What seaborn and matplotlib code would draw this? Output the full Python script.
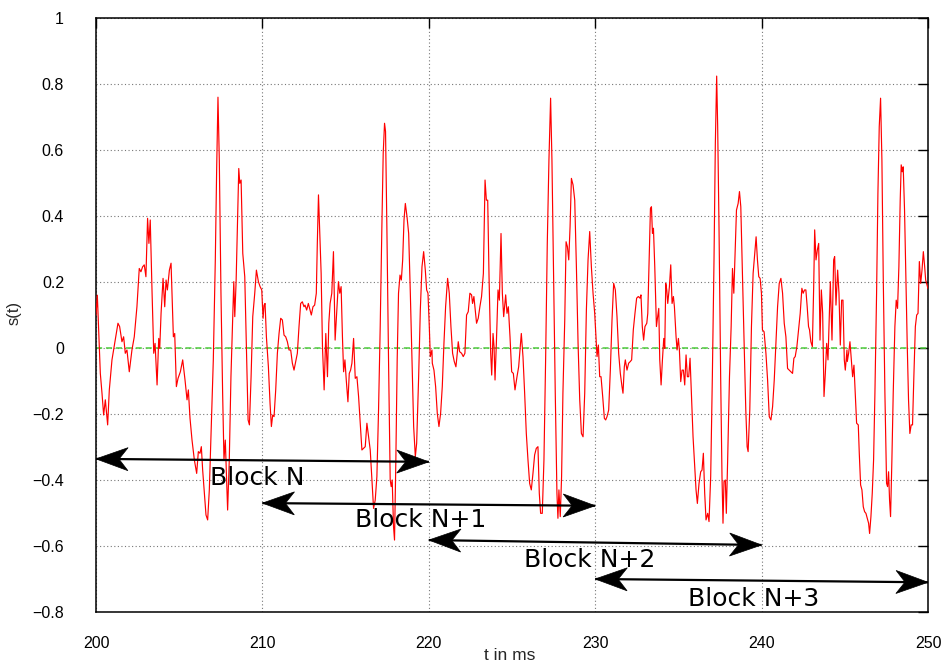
import matplotlib
matplotlib.use("Agg")
import numpy as np
import pandas as pd
import seaborn as sns
import matplotlib.pyplot as plt
from matplotlib.patches import Polygon
from matplotlib.transforms import IdentityTransform

# ---------------- data ----------------
t_ms = [
    200.00, 200.08, 200.26, 200.36, 200.46, 200.56, 200.70, 200.80, 200.96, 201.12,
    201.32, 201.42, 201.56, 201.66, 201.76, 201.86, 202.00, 202.16, 202.30, 202.46,
    202.60, 202.70, 202.80, 202.90, 203.00, 203.10, 203.18, 203.26, 203.37, 203.47,
    203.55, 203.67, 203.77, 203.83, 203.91, 204.03, 204.13, 204.21, 204.29, 204.41,
    204.51, 204.65, 204.73, 204.83, 204.93, 205.07,
    205.21, 205.35, 205.47, 205.55, 205.65, 205.77, 205.91, 206.05, 206.15, 206.25,
    206.33, 206.41, 206.51, 206.61, 206.71, 206.81, 206.93, 207.05, 207.17, 207.25,
    207.33, 207.41, 207.51, 207.61, 207.69, 207.77, 207.81, 207.91, 208.01, 208.11,
    208.21, 208.28, 208.34, 208.42, 208.52, 208.58, 208.64, 208.72, 208.82, 208.94,
    209.06, 209.14, 209.22, 209.32, 209.42, 209.54, 209.64, 209.76, 209.86,
    209.96, 210.04, 210.10, 210.16, 210.24, 210.36, 210.46, 210.54, 210.62, 210.70,
    210.80, 210.90, 211.00, 211.10, 211.20, 211.30, 211.40, 211.50, 211.60, 211.70,
    211.80, 211.90, 212.00, 212.10, 212.20, 212.30, 212.40, 212.50, 212.56, 212.66,
    212.76, 212.86, 212.94, 213.04, 213.14, 213.24, 213.30, 213.37, 213.45, 213.53,
    213.61, 213.71, 213.81, 213.91, 213.99, 214.07, 214.17, 214.27, 214.37, 214.47,
    214.57, 214.65, 214.73, 214.81,
    214.88, 214.96, 215.04, 215.14, 215.22, 215.30, 215.38, 215.48, 215.58, 215.68,
    215.78, 215.88, 215.98, 216.08, 216.18, 216.28, 216.38, 216.48, 216.58, 216.68,
    216.78, 216.88, 216.98, 217.08, 217.18, 217.26, 217.34, 217.40, 217.48, 217.58,
    217.68, 217.74, 217.80, 217.88, 217.94, 218.02, 218.10, 218.18, 218.27, 218.35,
    218.43, 218.51, 218.59, 218.69, 218.79, 218.89, 218.99, 219.09, 219.19, 219.27,
    219.39, 219.49, 219.59, 219.69, 219.79, 219.87, 219.95, 220.03, 220.09, 220.19,
    220.21, 220.31, 220.41, 220.51, 220.61, 220.71, 220.81, 220.91, 221.01, 221.13,
    221.23, 221.33, 221.43, 221.53, 221.63, 221.71, 221.77, 221.85, 221.97, 222.07,
    222.17, 222.27, 222.37, 222.47, 222.57, 222.63, 222.71, 222.77, 222.87, 222.97,
    223.07, 223.17, 223.28, 223.38, 223.46, 223.54, 223.62, 223.72, 223.78, 223.86,
    223.92, 223.98, 224.06, 224.16, 224.24, 224.34, 224.42, 224.50, 224.62, 224.70,
    224.78, 224.88, 224.98, 225.08, 225.18,
    225.30, 225.40, 225.48, 225.56, 225.66, 225.76, 225.86, 225.96, 226.06, 226.16,
    226.26, 226.36, 226.46, 226.56, 226.64, 226.72, 226.82, 226.92, 227.02, 227.12,
    227.22, 227.32, 227.40, 227.50, 227.60, 227.70, 227.76, 227.82, 227.90, 227.98,
    228.06, 228.17, 228.25, 228.33, 228.41, 228.49, 228.57, 228.67, 228.77, 228.87,
    228.97, 229.07, 229.17, 229.27, 229.37, 229.47, 229.57, 229.67, 229.77, 229.87,
    229.97,
    230.11, 230.19, 230.27, 230.35, 230.45, 230.55, 230.63, 230.71, 230.81, 230.91,
    231.01, 231.11, 231.21, 231.31, 231.41, 231.51, 231.61, 231.67, 231.75, 231.81,
    231.91, 232.01, 232.11, 232.19, 232.29, 232.39, 232.49, 232.59, 232.69, 232.75,
    232.83, 232.91, 232.99, 233.10, 233.16, 233.24, 233.32, 233.38, 233.44, 233.50,
    233.58, 233.68, 233.74, 233.82, 233.88, 233.96, 234.04, 234.12, 234.18, 234.24,
    234.30, 234.36, 234.46, 234.54, 234.62, 234.70, 234.76, 234.86, 234.92, 235.00,
    235.06,
    235.14, 235.22, 235.30, 235.38, 235.46, 235.54, 235.62, 235.70, 235.78, 235.88,
    235.98, 236.06, 236.14, 236.24, 236.34, 236.42, 236.50, 236.58, 236.66, 236.76,
    236.84, 236.94, 237.04, 237.14, 237.22, 237.30, 237.36, 237.44, 237.54, 237.62,
    237.68, 237.74, 237.82, 237.88, 237.96, 238.07, 238.17, 238.25, 238.33, 238.41,
    238.49, 238.59, 238.67, 238.75, 238.85, 238.95, 239.05, 239.13, 239.19, 239.29,
    239.39, 239.49, 239.59, 239.67, 239.75, 239.83, 239.91, 239.99, 240.05, 240.15,
    240.26, 240.36, 240.46, 240.56, 240.66, 240.76, 240.86, 240.96, 241.06, 241.16,
    241.26, 241.36, 241.46, 241.56, 241.66, 241.76, 241.86, 241.94, 242.02, 242.12,
    242.22, 242.32, 242.42, 242.50, 242.58, 242.66, 242.74, 242.82, 242.88, 242.96,
    243.05, 243.13, 243.19, 243.27, 243.35, 243.43, 243.51, 243.59, 243.67, 243.75,
    243.83, 243.91, 243.99, 244.07, 244.13, 244.23, 244.33, 244.39, 244.47, 244.57,
    244.65, 244.73, 244.81, 244.89, 244.97, 245.03, 245.13,
    245.15, 245.23, 245.31, 245.39, 245.47, 245.55, 245.63, 245.71, 245.81, 245.87,
    245.95, 246.03, 246.11, 246.19, 246.27, 246.35, 246.43, 246.49, 246.57, 246.65,
    246.73, 246.81, 246.91, 246.99, 247.07, 247.15, 247.23, 247.31, 247.41, 247.51,
    247.57, 247.63, 247.69, 247.75, 247.83, 247.91, 248.01, 248.09, 248.17, 248.25,
    248.33, 248.39, 248.45, 248.51, 248.59, 248.67, 248.75, 248.83, 248.91, 248.99,
    249.07, 249.15, 249.24, 249.32, 249.40, 249.48, 249.56, 249.64, 249.72, 249.80,
    249.86, 250.00,
]

s_val = [
    0.100, 0.160, -0.077, -0.137, -0.203, -0.157, -0.233, -0.127, -0.036, 0.014,
    0.075, 0.065, 0.019, 0.034, -0.016, -0.006, -0.072, -0.006, 0.034, 0.125,
    0.241, 0.231, 0.246, 0.252, 0.216, 0.393, 0.317, 0.388, 0.166, -0.016,
    0.014, -0.112, 0.029, -0.001, 0.105, 0.211, 0.125, 0.206, 0.176, 0.236,
    0.257, 0.034, 0.044, -0.117, -0.092, -0.072,
    -0.036, -0.097, -0.157, -0.127, -0.213, -0.279, -0.339, -0.380, -0.314, -0.319,
    -0.299, -0.370, -0.440, -0.506, -0.521, -0.430, -0.238, -0.036, 0.267, 0.539,
    0.760, 0.570, 0.166, -0.137, -0.339, -0.279, -0.339, -0.491, -0.339, -0.087,
    0.085, 0.201, 0.095, 0.201, 0.418, 0.544, 0.499, 0.509, 0.287, 0.216,
    -0.036, -0.218, -0.233, -0.087, 0.095, 0.166, 0.236, 0.201, 0.186,
    0.176, 0.090, 0.130, 0.135, 0.034, -0.057, -0.168, -0.238, -0.203, -0.208,
    -0.127, -0.016, 0.044, 0.090, 0.085, 0.039, 0.034, 0.019, -0.006, -0.006,
    -0.046, -0.067, -0.041, -0.016, 0.065, 0.135, 0.140, 0.125, 0.130, 0.115,
    0.135, 0.115, 0.100, 0.125, 0.130, 0.166, 0.317, 0.464, 0.347, 0.226,
    0.004, -0.127, 0.044, -0.087, 0.075, 0.135, 0.166, 0.292, 0.024, 0.115,
    0.201, 0.166, 0.186, 0.034,
    -0.072, -0.036, -0.097, -0.163, -0.077, -0.067, -0.046, 0.029, -0.092, -0.087,
    -0.147, -0.228, -0.309, -0.304, -0.299, -0.228, -0.269, -0.309, -0.400, -0.486,
    -0.461, -0.390, -0.188, 0.065, 0.368, 0.590, 0.681, 0.656, 0.368, -0.036,
    -0.400, -0.420, -0.400, -0.541, -0.582, -0.339, -0.036, 0.166, 0.221, 0.206,
    0.267, 0.388, 0.438, 0.398, 0.347, 0.166, -0.036, -0.238, -0.329, -0.289,
    -0.087, 0.115, 0.246, 0.292, 0.236, 0.176, 0.166, 0.065, -0.026, -0.006,
    -0.046, -0.067, -0.117, -0.198, -0.238, -0.198, -0.117, 0.014, 0.125, 0.211,
    0.166, 0.065, -0.016, -0.041, -0.057, -0.016, 0.019, -0.011, -0.016, -0.026,
    -0.016, 0.100, 0.110, 0.166, 0.161, 0.135, 0.156, 0.125, 0.075, 0.090,
    0.125, 0.156, 0.226, 0.509, 0.448, 0.448, 0.216, -0.016, -0.082, 0.044,
    0.004, -0.097, 0.014, 0.176, 0.145, 0.347, 0.166, 0.095, 0.161, 0.105,
    0.125, 0.034, -0.072, -0.077, -0.127,
    -0.087, -0.057, -0.006, 0.044, -0.026, -0.137, -0.259, -0.339, -0.410, -0.430,
    -0.380, -0.324, -0.304, -0.299, -0.440, -0.501, -0.501, -0.339, -0.036, 0.317,
    0.570, 0.757, 0.570, 0.216, -0.137, -0.440, -0.516, -0.430, -0.511, -0.390,
    -0.137, 0.085, 0.322, 0.307, 0.267, 0.368, 0.514, 0.494, 0.448, 0.246,
    0.014, -0.157, -0.259, -0.269, -0.137, 0.115, 0.267, 0.353, 0.246, 0.166,
    0.105,
    -0.026, 0.009, -0.087, -0.087, -0.147, -0.213, -0.218, -0.208, -0.188, -0.067,
    0.085, 0.196, 0.176, 0.095, -0.016, -0.077, -0.117, -0.137, -0.057, -0.036,
    -0.067, -0.046, -0.041, -0.036, 0.055, 0.105, 0.151, 0.156, 0.151, 0.161,
    0.065, 0.024, 0.065, 0.075, 0.105, 0.267, 0.423, 0.428, 0.347, 0.363,
    0.246, 0.065, 0.090, 0.120, -0.036, -0.112, -0.036, 0.029, -0.001, 0.196,
    0.176, 0.135, 0.186, 0.252, 0.135, 0.156, 0.125, 0.034, -0.006, 0.029,
    -0.006,
    -0.102, -0.067, -0.067, -0.112, -0.021, -0.087, -0.087, -0.031, -0.137, -0.269,
    -0.360, -0.430, -0.471, -0.410, -0.375, -0.370, -0.319, -0.440, -0.521, -0.501,
    -0.526, -0.390, -0.087, 0.267, 0.620, 0.824, 0.671, 0.368, -0.087, -0.390,
    -0.531, -0.405, -0.400, -0.501, -0.339, -0.087, 0.065, 0.241, 0.166, 0.287,
    0.418, 0.438, 0.474, 0.428, 0.216, 0.014, -0.188, -0.299, -0.314, -0.188,
    0.065, 0.226, 0.287, 0.337, 0.267, 0.216, 0.211, 0.166, 0.055, 0.049,
    -0.016, -0.097, -0.208, -0.218, -0.178, -0.097, 0.014, 0.125, 0.196, 0.211,
    0.166, 0.075, 0.034, -0.062, -0.067, -0.072, -0.077, -0.031, -0.026, 0.004,
    0.055, 0.105, 0.181, 0.166, 0.176, 0.176, 0.125, 0.065, 0.055, 0.019,
    0.004, 0.186, 0.358, 0.267, 0.297, 0.317, 0.024, 0.176, 0.105, -0.147,
    -0.077, 0.014, -0.036, 0.095, 0.201, 0.024, 0.267, 0.277, 0.130, 0.236,
    0.166, 0.009, 0.145, 0.145, -0.036, -0.067, -0.006,
    -0.041, -0.016, 0.019, -0.036, -0.087, -0.052, -0.137, -0.228, -0.233, -0.319,
    -0.415, -0.430, -0.481, -0.496, -0.501, -0.516, -0.531, -0.562, -0.511, -0.440,
    -0.339, -0.137, 0.166, 0.469, 0.671, 0.757, 0.570, 0.216, -0.137, -0.410,
    -0.420, -0.375, -0.461, -0.511, -0.339, -0.137, 0.065, 0.145, 0.120, 0.246,
    0.448, 0.555, 0.534, 0.549, 0.418, 0.216, 0.014, -0.157, -0.259, -0.233,
    -0.233, -0.087, 0.065, 0.100, 0.105, 0.262, 0.196, 0.236, 0.292, 0.246,
    0.206, 0.180,
]

x_ticks = [200, 210, 220, 230, 240, 250]
y_ticks = [-0.8, -0.6, -0.4, -0.2, 0, 0.2, 0.4, 0.6, 0.8, 1]
y_tick_labels = ["\u22120.8", "\u22120.6", "\u22120.4", "\u22120.2", "0",
                 "0.2", "0.4", "0.6", "0.8", "1"]

block_names = ["Block N", "Block N+1", "Block N+2", "Block N+3"]
arrow_t0 = [200, 210, 220, 230]
arrow_t1 = [220, 230, 240, 250]
arrow_y0 = [-0.336, -0.470, -0.582, -0.700]
arrow_y1 = [-0.345, -0.478, -0.597, -0.710]
label_t = [206.85, 215.56, 225.72, 235.58]
label_y = [-0.415, -0.542, -0.664, -0.782]

# ---------------- figure ----------------
sns.set_style("white")
plt.rcParams['font.family'] = ['Liberation Sans', 'DejaVu Sans']

W, H = 948, 667
fig = plt.figure(figsize=(W / 100, H / 100), dpi=100)
ax = fig.add_axes([96 / W, 1 - 612 / H, 832 / W, 594 / H])

df = pd.DataFrame({"t": t_ms, "s": s_val})
ax.axhline(0, color="#4ccc3a", lw=1.1, ls=(0, (4, 2.5)), zorder=2)
sns.lineplot(data=df, x="t", y="s", color="#ff0000", lw=0.85, ax=ax,
             sort=False, estimator=None, zorder=3)

ax.set_xlim(200, 250)
ax.set_ylim(-0.8, 1)
ax.set_xticks(x_ticks)
ax.set_xticklabels([str(v) for v in x_ticks])
ax.set_yticks(y_ticks)
ax.set_yticklabels(y_tick_labels)
ax.grid(True, color="#777777", ls=(0, (1, 2.2)), lw=0.8, zorder=1)
ax.set_axisbelow(True)
ax.tick_params(direction="in", length=7, width=1, top=True, right=True,
               labelsize=11.5, colors="black")
ax.tick_params(axis="y", pad=23)
ax.tick_params(axis="x", pad=17)
for sp in ax.spines.values():
    sp.set_visible(True)
    sp.set_color("black")
    sp.set_linewidth(1.1)
ax.set_xlabel("")
ax.set_ylabel("")
fig.text(510 / W, 1 - 655 / H, "t in ms", ha="center", va="center", fontsize=12.5)
fig.text(14 / W, 1 - 313 / H, "s(t)", ha="center", va="center", rotation=90, fontsize=12)

# ---------------- block arrows ----------------
def head(tip, tail):
    p_tip = ax.transData.transform(tip)
    p_tail = ax.transData.transform(tail)
    d = p_tail - p_tip
    d = d / np.hypot(*d)
    n = np.array([-d[1], d[0]])
    L, Wd, notch = 32.0, 11.5, 23.0
    pts = [p_tip, p_tip + d * L + n * Wd, p_tip + d * notch, p_tip + d * L - n * Wd]
    ax.add_patch(Polygon(pts, closed=True, transform=IdentityTransform(),
                         facecolor="black", edgecolor="black", lw=0.5, zorder=5,
                         clip_on=False))

for name, t0, t1, y0, y1, lt, ly in zip(block_names, arrow_t0, arrow_t1,
                                         arrow_y0, arrow_y1, label_t, label_y):
    ax.plot([t0, t1], [y0, y1], color="black", lw=1.6, zorder=4, clip_on=False,
            solid_capstyle="butt")
    head((t0, y0), (t1, y1))
    head((t1, y1), (t0, y0))
    ax.text(lt, ly, name, fontsize=18, family="DejaVu Sans", ha="left",
            va="baseline", color="black", zorder=6)

fig.savefig("out.png", dpi=100)
